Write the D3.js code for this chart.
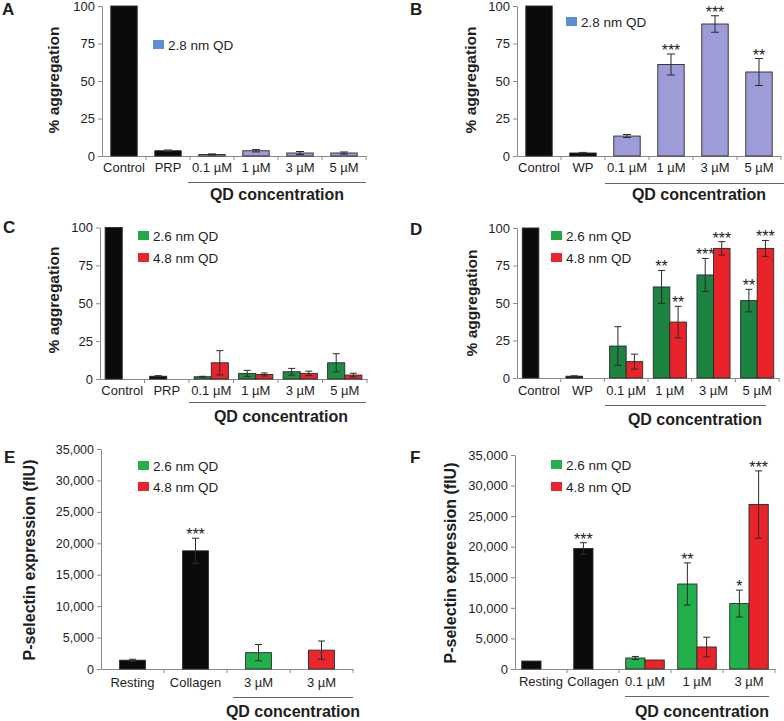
<!DOCTYPE html>
<html><head><meta charset="utf-8">
<script src="https://cdn.jsdelivr.net/npm/d3@7"></script>
<style>
body{margin:0;background:#fff;}
svg{display:block;font-family:Arial,"Liberation Sans",Helvetica,sans-serif;}
</style></head><body>
<svg id="chart" width="784" height="721"></svg>
<script>
// ---------------- DATA ----------------
const aggCategoriesPRP = ["Control", "PRP", "0.1 µM", "1 µM", "3 µM", "5 µM"];
const aggCategoriesWP  = ["Control", "WP", "0.1 µM", "1 µM", "3 µM", "5 µM"];
const aggTicks = [0, 25, 50, 75, 100];
const selTicks = [0, 5000, 10000, 15000, 20000, 25000, 30000, 35000];
const selCategoriesE = ["Resting", "Collagen", "3 µM", "3 µM"];
const selCategoriesF = ["Resting", "Collagen", "0.1 µM", "1 µM", "3 µM"];

// Panel A (2.8 nm QD, PRP)
const aValues = [100, 3.5, 1, 3.5, 2, 2];
const aErrors = [0, 0.5, 0.4, 0.8, 1, 0.7];
const aStars  = ["", "", "", "", "", ""];
// Panel B (2.8 nm QD, WP)
const bValues = [100, 2, 13.3, 61, 88, 56];
const bErrors = [0, 0.4, 1, 7, 5.5, 9];
const bStars  = ["", "", "", "***", "***", "**"];
// Panel C (PRP)
const cControl = [100, 1.8];
const cControlErr = [0, 0.4];
const cGreen = [1.5, 3.7, 4.8, 10.7];
const cGreenErr = [0.3, 2, 2.2, 6];
const cRed = [10.7, 3, 3.7, 2.6];
const cRedErr = [8, 1, 1.5, 1.2];
// Panel D (WP)
const dControl = [100, 1.2];
const dControlErr = [0, 0.3];
const dGreen = [21.3, 60.7, 68.7, 51.6];
const dGreenErr = [12.9, 11, 11, 7.5];
const dGreenStars = ["", "**", "***", "**"];
const dRed = [10.9, 37.3, 86.4, 86.4];
const dRedErr = [5, 10.5, 4.5, 5.3];
const dRedStars = ["", "**", "***", "***"];
// Panel E (P-selectin, PRP)
const eValues = [1400, 18800, 2600, 3000];
const eErrors = [150, 2000, 1300, 1450];
const eStars  = ["", "***", "", ""];
// Panel F (P-selectin, WP)
const fControl = [1300, 19700];
const fControlErr = [0, 950];
const fControlStars = ["", "***"];
const fGreen = [1800, 13900, 10700];
const fGreenErr = [250, 3450, 2200];
const fGreenStars = ["", "**", "*"];
const fRed = [1470, 3600, 26900];
const fRedErr = [0, 1600, 5500];
const fRedStars = ["", "", "***"];

// ---------------- STYLE ----------------
const BLACK = "#0b0b0b", LAV = "#9d9cd9", LAV_LEG = "#5b8ed6";
const AXIS = "#8a8a8a", TXT = "#1e1e1e";

const svg = d3.select("#chart");

function panel(cfg) {
  const g = svg.append("g");
  const n = cfg.categories.length;
  const x = d3.scaleBand().domain(d3.range(n)).range(cfg.xRange).padding(0);
  const y = d3.scaleLinear().domain([0, cfg.yMax]).range(cfg.yRange);
  const step = x.step();

  // y axis
  const ya = g.append("g").attr("transform", `translate(${cfg.xRange[0]},0)`)
    .call(d3.axisLeft(y).tickValues(cfg.ticks).tickSize(4).tickSizeOuter(0).tickPadding(cfg.tickPad || 3)
      .tickFormat(cfg.fmt || (d => d)));
  ya.select(".domain").attr("stroke", AXIS);
  ya.selectAll(".tick line").attr("stroke", AXIS);
  ya.selectAll(".tick text").attr("fill", TXT).style("font-size", cfg.tickFont || "13px").style("font-family", "inherit");

  // x axis (labels at centers, ticks at band boundaries)
  const xa = g.append("g").attr("transform", `translate(0,${cfg.yRange[0]})`)
    .call(d3.axisBottom(x).tickSize(0).tickSizeOuter(0).tickPadding(cfg.labelPad).tickFormat(i => cfg.categories[i]));
  xa.select(".domain").attr("stroke", AXIS);
  xa.selectAll(".tick text").attr("fill", TXT).style("font-size", "13px").style("font-family", "inherit");
  g.append("g").selectAll("line").data(d3.range(1, n + 1)).join("line")
    .attr("x1", i => x(0) + i * step).attr("x2", i => x(0) + i * step)
    .attr("y1", cfg.yRange[0]).attr("y2", cfg.yRange[0] + 4)
    .attr("stroke", AXIS);

  // bars
  const x1 = d3.scaleBand().domain(["g", "r"]).range([0, step]).paddingInner(0).paddingOuter(cfg.groupOuter || 0.32);
  const items = cfg.items.map(d => {
    let bx, bw;
    if (d.slot === "single") { bw = step * cfg.barFrac; bx = x(d.i) + (step - bw) / 2; }
    else { bw = x1.bandwidth(); bx = x(d.i) + x1(d.slot); }
    return Object.assign({}, d, { bx, bw });
  });
  g.append("g").selectAll("rect").data(items).join("rect")
    .attr("x", d => d.bx).attr("width", d => d.bw)
    .attr("y", d => y(d.v)).attr("height", d => y(0) - y(d.v))
    .attr("fill", d => d.color).attr("stroke", d => d.stroke || "#2a2a2a").attr("stroke-width", 0.9);

  const eb = g.append("g").attr("stroke", "#2b2b2b").attr("stroke-width", 1);
  items.filter(d => d.e > 0).forEach(d => {
    const cx = d.bx + d.bw / 2, cw = cfg.cap || 3.5;
    eb.append("line").attr("x1", cx).attr("x2", cx).attr("y1", y(Math.max(0, d.v - d.e))).attr("y2", y(d.v + d.e));
    eb.append("line").attr("x1", cx - cw).attr("x2", cx + cw).attr("y1", y(d.v + d.e)).attr("y2", y(d.v + d.e));
    eb.append("line").attr("x1", cx - cw).attr("x2", cx + cw).attr("y1", y(Math.max(0, d.v - d.e))).attr("y2", y(Math.max(0, d.v - d.e)));
  });
  g.append("g").selectAll("text").data(items.filter(d => d.star)).join("text")
    .attr("x", d => d.bx + d.bw / 2).attr("y", d => y(d.v + d.e) + 2)
    .attr("text-anchor", "middle").attr("fill", "#222").style("font-size", "16px")
    .text(d => d.star);

  // legend
  cfg.legend.forEach(l => {
    g.append("rect").attr("x", l.x).attr("y", l.y).attr("width", 11).attr("height", 9).attr("fill", l.color);
    g.append("text").attr("x", l.x + 15).attr("y", l.y + 9.5).attr("fill", TXT)
      .style("font-size", "13.5px").text(l.label);
  });

  // QD concentration bracket
  const u = cfg.under;
  g.append("line").attr("x1", u.x1).attr("x2", u.x2).attr("y1", u.y).attr("y2", u.y).attr("stroke", "#666");
  g.append("text").attr("x", u.tx).attr("y", u.ty).attr("text-anchor", "middle")
    .style("font-size", "16px").style("font-weight", "bold").attr("fill", TXT).text("QD concentration");

  // y label
  g.append("text").attr("transform", `translate(${cfg.yLab[0]},${cfg.yLab[1]}) rotate(-90)`)
    .attr("text-anchor", "middle").style("font-size", cfg.yLabFont).style("font-weight", "bold").attr("fill", TXT)
    .text(cfg.yLabel);

  // panel letter
  g.append("text").attr("x", cfg.letter[0]).attr("y", cfg.letter[1]).style("font-size", "17px")
    .style("font-weight", "bold").attr("fill", TXT).text(cfg.name);
}

function singleItems(values, errors, stars, colors) {
  return values.map((v, i) => ({ i, slot: "single", v, e: errors[i], star: stars[i], color: colors[i] }));
}
function groupedItems(ctrl, ctrlErr, ctrlStars, green, greenErr, greenStars, red, redErr, redStars, gc, rc) {
  const out = [];
  ctrl.forEach((v, i) => out.push({ i, slot: "g", v, e: ctrlErr[i], star: ctrlStars ? ctrlStars[i] : "", color: BLACK }));
  green.forEach((v, k) => out.push({ i: k + ctrl.length, slot: "g", v, e: greenErr[k], star: greenStars ? greenStars[k] : "", color: gc }));
  red.forEach((v, k) => out.push({ i: k + ctrl.length, slot: "r", v, e: redErr[k], star: redStars ? redStars[k] : "", color: rc }));
  return out;
}

const aggLabel = "% aggregation";
const selLabel = "P-selectin expression (flU)";

// Panel A
panel({
  name: "A", letter: [2, 15], categories: aggCategoriesPRP, xRange: [102, 366], yRange: [156, 6], yMax: 100,
  ticks: aggTicks, labelPad: 7, barFrac: 0.6, cap: 4,
  items: singleItems(aValues, aErrors, aStars, [BLACK, BLACK, LAV, LAV, LAV, LAV]),
  legend: [{ x: 153, y: 40, color: LAV_LEG, label: "2.8 nm QD" }],
  under: { x1: 188, x2: 366, y: 182.5, tx: 277, ty: 200 },
  yLab: [58.5, 80], yLabFont: "15.5px", yLabel: aggLabel
});
// Panel B
panel({
  name: "B", letter: [410, 15], categories: aggCategoriesWP, xRange: [517, 781], yRange: [156, 6], yMax: 100,
  ticks: aggTicks, labelPad: 7, barFrac: 0.6, cap: 4,
  items: singleItems(bValues, bErrors, bStars, [BLACK, BLACK, LAV, LAV, LAV, LAV]),
  legend: [{ x: 566, y: 17, color: LAV_LEG, label: "2.8 nm QD" }],
  under: { x1: 605, x2: 784, y: 183.5, tx: 699, ty: 200 },
  yLab: [476, 80], yLabFont: "15.5px", yLabel: aggLabel
});
// Panel C
panel({
  name: "C", letter: [3, 233], categories: aggCategoriesPRP, xRange: [100, 367], yRange: [379, 227.5], yMax: 100,
  ticks: aggTicks, labelPad: 7, groupOuter: 0.3, cap: 3.5,
  items: groupedItems(cControl, cControlErr, null, cGreen, cGreenErr, null, cRed, cRedErr, null, "#1f8c42", "#e6252b"),
  legend: [{ x: 138, y: 231, color: "#22a84b", label: "2.6 nm QD" }, { x: 138, y: 253, color: "#e8262c", label: "4.8 nm QD" }],
  under: { x1: 189, x2: 366, y: 402.5, tx: 281, ty: 422 },
  yLab: [58.5, 300], yLabFont: "15.5px", yLabel: aggLabel
});
// Panel D
panel({
  name: "D", letter: [410, 235], categories: aggCategoriesWP, xRange: [517, 779], yRange: [378, 228], yMax: 100,
  ticks: aggTicks, labelPad: 7.5, groupOuter: 0.32, cap: 3.5,
  items: groupedItems(dControl, dControlErr, null, dGreen, dGreenErr, dGreenStars, dRed, dRedErr, dRedStars, "#1d8340", "#e8242a"),
  legend: [{ x: 551, y: 231, color: "#22a84b", label: "2.6 nm QD" }, { x: 551, y: 253, color: "#e8262c", label: "4.8 nm QD" }],
  under: { x1: 605, x2: 766, y: 405.5, tx: 695, ty: 425 },
  yLab: [477, 303], yLabFont: "15.5px", yLabel: aggLabel
});
// Panel E
panel({
  name: "E", letter: [4, 463], categories: selCategoriesE, xRange: [101, 353], yRange: [669, 449], yMax: 35000,
  ticks: selTicks, fmt: d3.format(","), labelPad: 9, barFrac: 0.41, cap: 3.5, tickFont: "12.5px",
  items: singleItems(eValues, eErrors, eStars, [BLACK, BLACK, "#22b04c", "#e8262c"]),
  legend: [{ x: 138, y: 461, color: "#22b04c", label: "2.6 nm QD" }, { x: 138, y: 482, color: "#e8262c", label: "4.8 nm QD" }],
  under: { x1: 233, x2: 353, y: 697.5, tx: 293, ty: 717 },
  yLab: [35, 560], yLabFont: "16px", yLabel: selLabel
});
// Panel F
panel({
  name: "F", letter: [410, 463], categories: selCategoriesF, xRange: [515, 775], yRange: [669, 455], yMax: 35000,
  ticks: selTicks, fmt: d3.format(","), labelPad: 8, groupOuter: 0.35, cap: 3.5, tickFont: "13px",
  items: groupedItems(fControl, fControlErr, fControlStars, fGreen, fGreenErr, fGreenStars, fRed, fRedErr, fRedStars, "#22b04c", "#e8242a"),
  legend: [{ x: 551, y: 460, color: "#22b04c", label: "2.6 nm QD" }, { x: 551, y: 482, color: "#e8262c", label: "4.8 nm QD" }],
  under: { x1: 625, x2: 769, y: 696.5, tx: 702, ty: 717 },
  yLab: [456, 563], yLabFont: "16px", yLabel: selLabel
});
</script>
</body></html>
